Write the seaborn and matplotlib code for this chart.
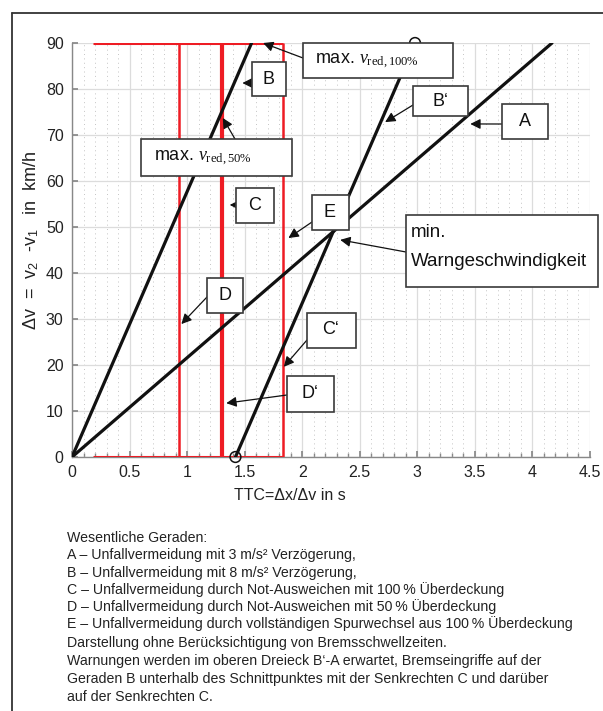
import numpy as np
import pandas as pd
import matplotlib
matplotlib.use("Agg")
import matplotlib.pyplot as plt
import seaborn as sns
from matplotlib.patches import Rectangle
from matplotlib.lines import Line2D
from matplotlib.ticker import MultipleLocator, FuncFormatter

# ---------------- data ----------------
line_A_x = [0.0, 4.17]
line_A_y = [0, 90]
line_B_x = [0.0, 1.56]
line_B_y = [0, 90]
line_Bp_x = [1.42, 2.98]
line_Bp_y = [0, 90]
red_vert_thin_x = [0.93, 1.83]
red_vert_thick_x = [1.30]
red_vert_y = [0, 90]
red_horiz_x = [0.18, 1.83]
red_horiz_y = [0, 90]
circle_x = [1.42, 2.98]
circle_y = [0, 90]
x_ticks = [0, 0.5, 1, 1.5, 2, 2.5, 3, 3.5, 4, 4.5]
y_ticks = [0, 10, 20, 30, 40, 50, 60, 70, 80, 90]

notes = [
    "Wesentliche Geraden:",
    "A \u2013 Unfallvermeidung mit 3 m/s\u00b2 Verz\u00f6gerung,",
    "B \u2013 Unfallvermeidung mit 8 m/s\u00b2 Verz\u00f6gerung,",
    "C \u2013 Unfallvermeidung durch Not-Ausweichen mit 100\u202f% \u00dcberdeckung",
    "D \u2013 Unfallvermeidung durch Not-Ausweichen mit 50\u202f% \u00dcberdeckung",
    "E \u2013 Unfallvermeidung durch vollst\u00e4ndigen Spurwechsel aus 100\u202f% \u00dcberdeckung",
    "Darstellung ohne Ber\u00fccksichtigung von Bremsschwellzeiten.",
    "Warnungen werden im oberen Dreieck B\u2018-A erwartet, Bremseingriffe auf der",
    "Geraden B unterhalb des Schnittpunktes mit der Senkrechten C und dar\u00fcber",
    "auf der Senkrechten C.",
]

# ---------------- style ----------------
sns.set_theme(style="white")
plt.rcParams['font.family'] = ['Liberation Sans', 'DejaVu Sans']
plt.rcParams['mathtext.fontset'] = 'custom'
plt.rcParams['mathtext.rm'] = 'Liberation Sans'
plt.rcParams['mathtext.it'] = 'Liberation Serif:italic'
plt.rcParams['mathtext.sf'] = 'Liberation Serif'

W, H = 603, 711
fig = plt.figure(figsize=(W / 100, H / 100), dpi=100)


def fx(px):
    return px / W


def fy(py):
    return 1 - py / H


ax = fig.add_axes([fx(72), fy(457), (590 - 72) / W, (457 - 43) / H])

black_df = pd.DataFrame({
    "x": line_A_x + line_B_x + line_Bp_x,
    "y": line_A_y + line_B_y + line_Bp_y,
    "line": ["A"] * 2 + ["B"] * 2 + ["Bp"] * 2,
})
red_thin_df = pd.DataFrame({
    "x": [v for v in red_vert_thin_x for _ in red_vert_y],
    "y": red_vert_y * len(red_vert_thin_x),
    "line": [str(v) for v in red_vert_thin_x for _ in red_vert_y],
})
red_thick_df = pd.DataFrame({
    "x": [v for v in red_vert_thick_x for _ in red_vert_y],
    "y": red_vert_y * len(red_vert_thick_x),
    "line": [str(v) for v in red_vert_thick_x for _ in red_vert_y],
})
red_h_df = pd.DataFrame({
    "x": red_horiz_x * len(red_horiz_y),
    "y": [v for v in red_horiz_y for _ in red_horiz_x],
    "line": [str(v) for v in red_horiz_y for _ in red_horiz_x],
})

red = "#ee1c24"
sns.lineplot(data=red_h_df, x="x", y="y", units="line", estimator=None, sort=False,
             color=red, lw=2.2, ax=ax, zorder=3, solid_capstyle='butt')
sns.lineplot(data=red_thin_df, x="x", y="y", units="line", estimator=None, sort=False,
             color=red, lw=1.8, ax=ax, zorder=3, solid_capstyle='butt')
sns.lineplot(data=red_thick_df, x="x", y="y", units="line", estimator=None, sort=False,
             color=red, lw=3.0, ax=ax, zorder=3, solid_capstyle='butt')
sns.lineplot(data=black_df, x="x", y="y", units="line", estimator=None, sort=False,
             color="#111111", lw=2.3, ax=ax, zorder=4)
sns.scatterplot(x=circle_x, y=circle_y, ax=ax, s=60, facecolor="none",
                edgecolor="#111111", linewidth=1.1, zorder=4, clip_on=False)

ax.set_xlim(0, 4.5)
ax.set_ylim(0, 90)
ax.set_xticks(x_ticks)
ax.set_yticks(y_ticks)
ax.xaxis.set_minor_locator(MultipleLocator(0.1))
ax.xaxis.set_major_formatter(FuncFormatter(lambda v, p: f"{v:g}"))
ax.grid(True, which='major', color='#dcdcdc', lw=0.9, ls='-')
ax.grid(True, which='minor', axis='x', color='#c4c4c4', lw=0.7, ls=(0, (1, 3.5)))
ax.set_axisbelow(True)
for s in ['top', 'right']:
    ax.spines[s].set_visible(False)
for s in ['left', 'bottom']:
    ax.spines[s].set_color('#888888')
    ax.spines[s].set_linewidth(1.0)
ax.tick_params(axis='both', which='major', direction='in', length=4, color='#888888',
               labelsize=11.5, labelcolor='#222222', pad=6)
ax.tick_params(axis='x', which='minor', direction='in', length=3, color='#888888', bottom=True)
ax.tick_params(axis='x', which='both', bottom=True)
ax.tick_params(axis='y', which='both', left=True)
ax.set_xlabel("")
ax.set_ylabel("")

fig.text(fx(290), fy(496), "TTC=\u0394x/\u0394v in s", ha='center', va='center',
         fontsize=11.5, color='#222222')
fig.text(fx(31), fy(240), "\u0394v  =  v$_2$  -v$_1$   in  km/h", ha='center', va='center',
         rotation=90, fontsize=13, color='#222222')

# ---------------- annotations ----------------
tf = fig.transFigure
ann = [
    # text, box(px), text anchor(px), alignment, tail(px), tip(data)
    (r"max. $\mathit{v}_{\mathsf{red,100\%}}$", (303, 43, 453, 78), (315, 61), 'left', (303, 58), (1.66, 90)),
    ("B", (252, 62, 286, 96), (269, 79), 'center', (252, 83), (1.48, 81.3)),
    ("B\u2018", (413, 86, 468, 116), (440, 101), 'center', (413, 105), (2.72, 72.8)),
    ("A", (502, 104, 548, 139), (525, 121), 'center', (502, 124), (3.46, 72.4)),
    (r"max. $\mathit{v}_{\mathsf{red,50\%}}$", (141, 139, 292, 176), (154, 158), 'left', (235, 139), (1.31, 73.7)),
    ("C", (236, 188, 274, 223), (255, 205), 'center', (236, 205), (1.37, 54.8)),
    ("E", (312, 195, 349, 230), (330, 212), 'center', (312, 222), (1.88, 47.6)),
    ("", (406, 215, 598, 287), (411, 233), 'left', (406, 252), (2.33, 47.2)),
    ("D", (207, 278, 243, 313), (225, 295), 'center', (207, 297), (0.95, 28.9)),
    ("C\u2018", (307, 313, 356, 348), (331, 330), 'center', (307, 340), (1.84, 19.6)),
    ("D\u2018", (287, 376, 334, 412), (310, 394), 'center', (287, 395), (1.34, 11.7)),
]
for text, box, tpos, ha, tail, tip in ann:
    x0, y0, x1, y1 = box
    rect = Rectangle((fx(x0), fy(y1)), fx(x1) - fx(x0), fy(y0) - fy(y1), transform=tf,
                     facecolor='white', edgecolor='#3a3a3a', lw=1.2, zorder=6, clip_on=False)
    ax.add_patch(rect)
    if text:
        ax.text(fx(tpos[0]), fy(tpos[1]), text, transform=tf, ha=ha, va='center',
                fontsize=13, color='#111111', zorder=7, clip_on=False)
    ax.annotate("", xy=tip, xycoords='data', xytext=(fx(tail[0]), fy(tail[1])),
                textcoords='figure fraction',
                arrowprops=dict(arrowstyle='-|>', color='#111111', lw=0.9,
                                mutation_scale=15, shrinkA=0, shrinkB=0),
                zorder=5, annotation_clip=False)

ax.text(fx(411), fy(233), "min.", transform=tf, ha='left', va='center', fontsize=13.5,
        color='#111111', zorder=7, clip_on=False)
ax.text(fx(411), fy(262), "Warngeschwindigkeit", transform=tf, ha='left', va='center',
        fontsize=13.5, color='#111111', zorder=7, clip_on=False)

# ---------------- notes ----------------
note_y = [538, 555, 573, 590, 607, 624, 643, 661, 679, 697]
for t, yy in zip(notes, note_y):
    fig.text(fx(67), fy(yy), t, ha='left', va='center', fontsize=10.2, color='#222222')

# outer frame
fig.add_artist(Line2D([fx(12), fx(12)], [fy(711), fy(13)], transform=tf, color='#333333', lw=1.3))
fig.add_artist(Line2D([fx(12), fx(603)], [fy(13), fy(13)], transform=tf, color='#333333', lw=1.3))

fig.savefig("out.png", dpi=100)
